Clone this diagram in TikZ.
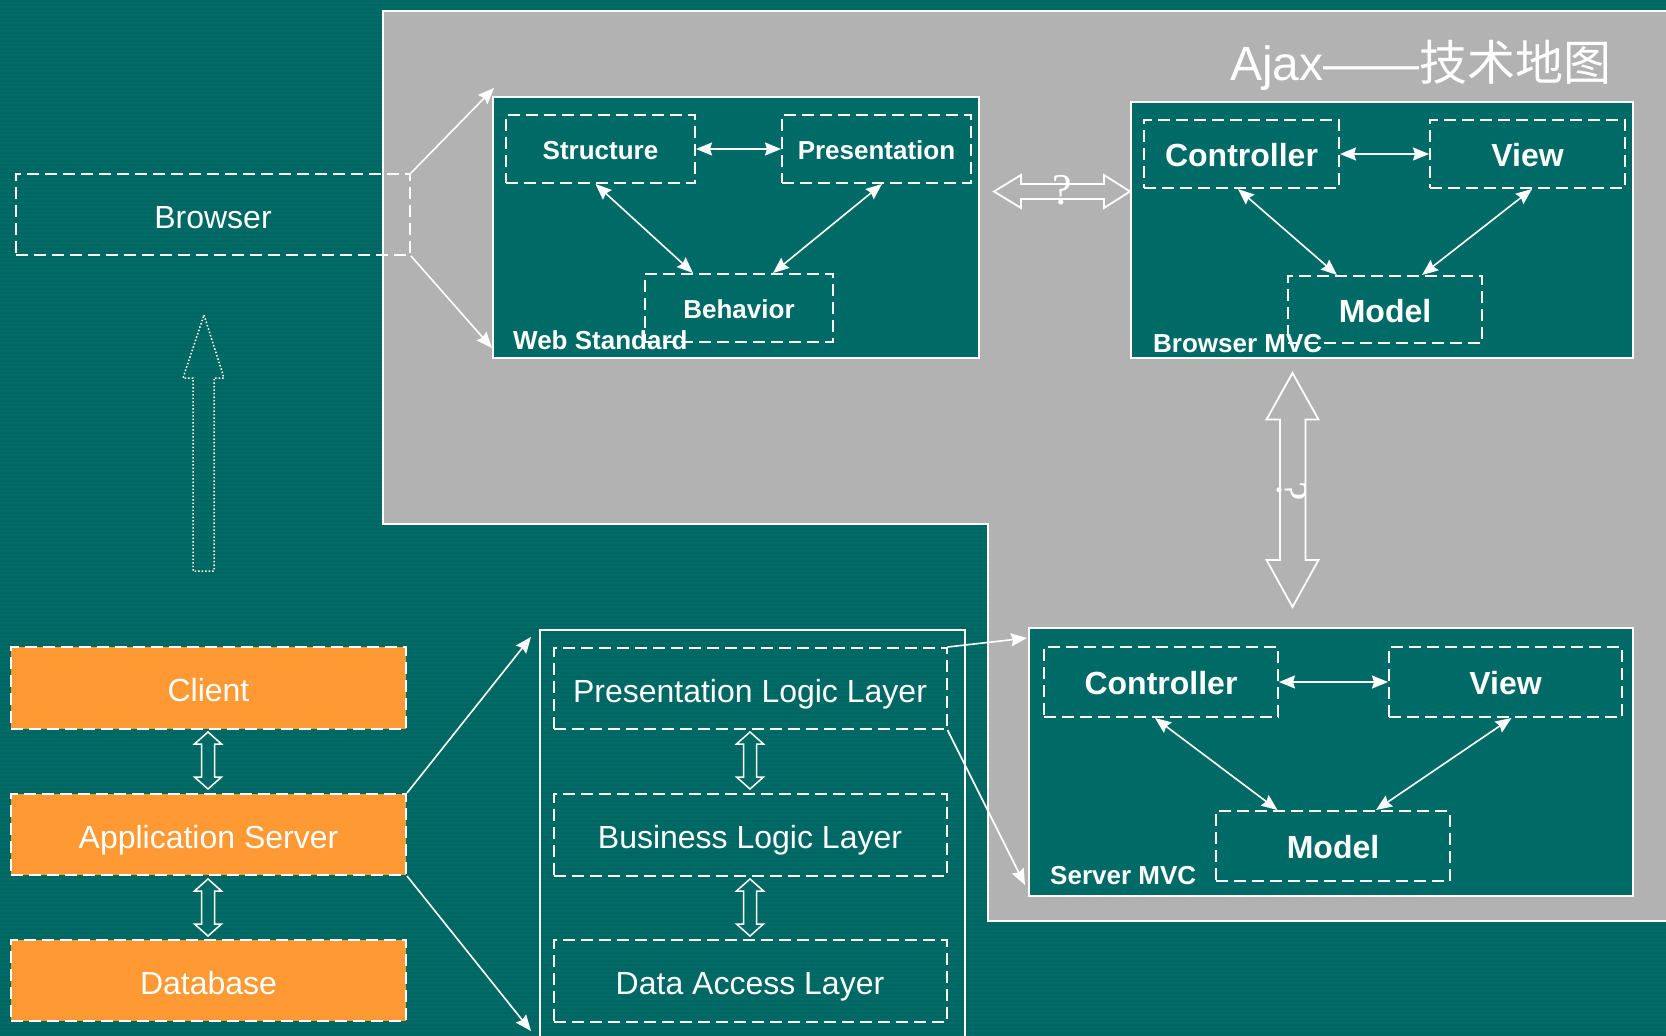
\documentclass[tikz,border=0pt]{standalone}
\usepackage{fontspec}
\setmainfont{Liberation Sans}
\newfontfamily\cjk{Noto Sans CJK SC}
\newfontfamily\serifq{Liberation Serif}
\usetikzlibrary{arrows.meta,calc}
\definecolor{bgteal}{HTML}{006B66}
\definecolor{panelgray}{HTML}{B2B2B2}
\definecolor{boxorange}{HTML}{FF9933}
\tikzset{
  dbox/.style={draw=white, line width=2pt, dash pattern=on 12pt off 6pt, inner sep=0pt, text=white, font=\fontsize{32}{38}\selectfont, text height=27.5pt, text depth=0pt},
  bdbox/.style={dbox, font=\fontsize{32}{38}\selectfont\bfseries, text height=25pt},
  sdbox/.style={dbox, font=\fontsize{26}{31}\selectfont\bfseries, text height=20.5pt},
  obox/.style={dbox, fill=boxorange},
  panel/.style={draw=white, line width=2pt, fill=bgteal, inner sep=0pt},
  plabel/.style={anchor=base west, inner sep=0pt, text=white, font=\fontsize{26}{31}\selectfont\bfseries},
  tip/.tip={Stealth[length=16pt,width=13pt,inset=2pt]},
  conn/.style={draw=white, line width=1.6pt, -tip},
  biconn/.style={draw=white, line width=1.6pt, tip-tip},
  blk/.style={draw=white, line width=1.8pt, line join=miter},
  qmark/.style={inner sep=0pt, text=white, font=\serifq\fontsize{44}{50}\selectfont}
}
\begin{document}
\begin{tikzpicture}[x=1pt,y=-1pt]
\useasboundingbox (0,0) rectangle (1666,1036);
\fill[bgteal] (0,0) rectangle (1666,1036);
\begin{scope}
\clip (0,0) rectangle (1666,1036);
% faint horizontal stripes of the background
\foreach \yy in {0,4,...,1036}{
  \fill[black, opacity=0.04] (0,\yy) rectangle (1666,{\yy+2});
}
% gray panel
\filldraw[fill=panelgray, draw=white, line width=2pt]
  (382.5,10.5) -- (1680,10.5) -- (1680,921) -- (988,921) -- (988,524) -- (382.5,524) -- cycle;

% Browser
\node[dbox, minimum width=394pt, minimum height=81pt] (browser) at (213,214.5) {Browser};

% dotted up arrow
\draw[white, line width=1.5pt, dotted, line join=miter]
  (204,315) -- (224,378) -- (214,378) -- (214,571) -- (193,571) -- (193,378) -- (183,378) -- cycle;

% Web Standard panel
\node[panel, minimum width=486pt, minimum height=261pt] (ws) at (736,227.5) {};
\node[sdbox, minimum width=189pt, minimum height=68pt] (st) at (600.5,149) {Structure};
\node[sdbox, minimum width=189pt, minimum height=68pt] (pr) at (876.5,149) {Presentation};
\node[sdbox, minimum width=188pt, minimum height=68pt] (be) at (739,308) {Behavior};
\node[plabel] (wsl) at (513,349) {Web Standard};
\draw[biconn] (st.east) -- (pr.west);
\draw[biconn] ($(st.south)+(-5,0)$) -- ($(be.north)+(-46,0)$);
\draw[biconn] ($(pr.south)+(5.5,0)$) -- ($(be.north)+(34,0)$);

% Browser MVC panel
\node[panel, minimum width=502pt, minimum height=256pt] (bm) at (1382,230) {};
\node[bdbox, minimum width=195pt, minimum height=68pt] (bc) at (1241.5,154) {Controller};
\node[bdbox, minimum width=195pt, minimum height=68pt] (bv) at (1527.5,154) {View};
\node[bdbox, minimum width=194pt, minimum height=67pt] (bmo) at (1385,309.5) {Model};
\node[plabel] (bml) at (1153,352) {Browser MVC};
\draw[biconn] (bc.east) -- (bv.west);
\draw[biconn] ($(bc.south)+(-3.5,0)$) -- ($(bmo.north)+(-48,0)$);
\draw[biconn] ($(bv.south)+(4.5,0)$) -- ($(bmo.north)+(37,0)$);

% Server MVC panel
\node[panel, minimum width=604pt, minimum height=268pt] (sm) at (1331,762) {};
\node[bdbox, minimum width=234pt, minimum height=70pt] (sc) at (1161,682) {Controller};
\node[bdbox, minimum width=233pt, minimum height=70pt] (sv) at (1505.5,682) {View};
\node[bdbox, minimum width=233.5pt, minimum height=70pt] (smo) at (1333,846) {Model};
\node[plabel] (sml) at (1050,884.5) {Server MVC};
\draw[biconn] (sc.east) -- (sv.west);
\draw[biconn] ($(sc.south)+(-6,0)$) -- ($(smo.north)+(-55.5,0)$);
\draw[biconn] ($(sv.south)+(6,0)$) -- ($(smo.north)+(43,0)$);

% horizontal ? arrow
\filldraw[blk, fill=panelgray]
  (994,191.5) -- (1021,175) -- (1021,184) -- (1104,184) -- (1104,175) -- (1130,191.5)
  -- (1104,208) -- (1104,199) -- (1021,199) -- (1021,208) -- cycle;
\node[qmark] (q1) at (1062,190) {?};

% vertical ? arrow
\filldraw[blk, fill=panelgray]
  (1292.5,373) -- (1318.5,419.5) -- (1305.5,419.5) -- (1305.5,560) -- (1318.5,560) -- (1292.5,607)
  -- (1266.5,560) -- (1280,560) -- (1280,419.5) -- (1266.5,419.5) -- cycle;
\node[qmark, rotate=-90] (q2) at (1292,491) {?};

% orange column
\node[obox, minimum width=395pt, minimum height=82pt] (client) at (208.5,688) {Client};
\node[obox, minimum width=395pt, minimum height=81pt] (app) at (208.5,834.5) {Application Server};
\node[obox, minimum width=395pt, minimum height=81pt] (db) at (208.5,980.5) {Database};

% layer box
\node[draw=none, minimum width=425pt, minimum height=420pt, inner sep=0pt] (lay) at (752.5,840) {};
\draw[white, line width=2pt] (lay.south west) |- (lay.north east) -- (lay.south east);
\node[dbox, minimum width=393pt, minimum height=81pt] (pll) at (750,688.5) {Presentation Logic Layer};
\node[dbox, minimum width=393pt, minimum height=81.5pt] (bll) at (750,834.75) {Business Logic Layer};
\node[dbox, minimum width=393pt, minimum height=81.5pt] (dal) at (750,980.75) {Data Access Layer};

% small block double arrows
\foreach \cx/\ya/\yb in {208/732/789, 208/879/936, 750/732/789, 750/879/936}{
  \filldraw[blk, fill=bgteal, line width=1.5pt]
    (\cx,\ya) -- ({\cx+13.5},{\ya+12}) -- ({\cx+6.5},{\ya+12}) -- ({\cx+6.5},{\yb-12}) -- ({\cx+13.5},{\yb-12})
    -- (\cx,\yb) -- ({\cx-13.5},{\yb-12}) -- ({\cx-6.5},{\yb-12}) -- ({\cx-6.5},{\ya+12}) -- ({\cx-13.5},{\ya+12}) -- cycle;
}

% free ends
\coordinate (wsTL) at (494,88);
\coordinate (wsBL) at (492,348);
\coordinate (layTL) at (531,637);
\coordinate (layBL) at (531,1031);
\coordinate (smTL) at (1027,638);
\coordinate (smBL) at (1025,885);

\draw[conn] (browser.north east) -- (wsTL);
\draw[conn] (browser.south east) -- (wsBL);
\draw[conn] (app.north east) -- (layTL);
\draw[conn] (app.south east) -- (layBL);
\draw[conn] (pll.north east) -- (smTL);
\draw[conn] (pll.south east) -- (smBL);

% title
\node[anchor=base west, inner sep=0pt, text=white, font=\fontsize{48}{56}\selectfont] (title) at (1230,80) {Ajax——{\cjk 技术地图}};
\end{scope}
\end{tikzpicture}
\end{document}
